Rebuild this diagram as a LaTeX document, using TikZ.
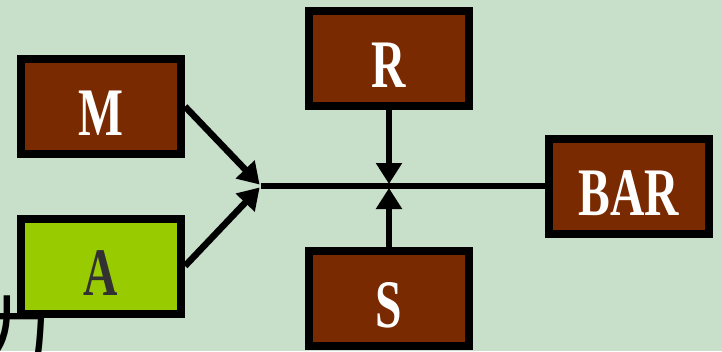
\documentclass[tikz,border=0pt]{standalone}
\usepackage{fontspec}
\usetikzlibrary{arrows.meta}
\newfontfamily\boxfont[FakeStretch=0.7]{Liberation Serif}
\newfontfamily\cjkfont{Noto Sans CJK SC}
\definecolor{bgcol}{RGB}{200,223,201}
\definecolor{brownbox}{RGB}{122,42,0}
\definecolor{greenbox}{RGB}{153,204,0}
\definecolor{darktext}{RGB}{50,50,50}
\tikzset{
  box/.style={draw=black, line width=8pt, fill=brownbox, minimum width=160pt,
    minimum height=95pt, inner sep=0pt, text height=58pt, text depth=0pt,
    text=white, font=\boxfont\bfseries\fontsize{68}{70}\selectfont},
  conn/.style={line width=6.5pt, draw=black},
  arr/.style={conn, -{Triangle[length=21pt,width=25pt]}, shorten >=2pt},
}
\begin{document}
\begin{tikzpicture}[x=1pt,y=-1pt]
\useasboundingbox (0,0) rectangle (722,351);
\fill[bgcol] (0,0) rectangle (722,351);
\begin{scope}
\clip (0,0) rectangle (722,351);
\node[inner sep=0pt, font=\cjkfont\fontsize{82}{84}\selectfont] (li) at (12,334) {力};
\end{scope}
\node[box] (M) at (101,106.5) {M};
\node[box, fill=greenbox, text=darktext] (A) at (101,266) {A};
\node[box] (R) at (389,58) {R};
\node[box] (S) at (389,298.5) {S};
\node[box] (BAR) at (629,186.5) {BAR};
\coordinate (J1) at (261,186);
\coordinate (J2) at (389,186);
\draw[conn] (J1) -- (J1 -| BAR.west);
\draw[arr] (M.east) -- (J1);
\draw[arr] (A.east) -- (J1);
\draw[arr] (R.south) -- (J2);
\draw[arr] (S.north) -- (J2);
\end{tikzpicture}
\end{document}
